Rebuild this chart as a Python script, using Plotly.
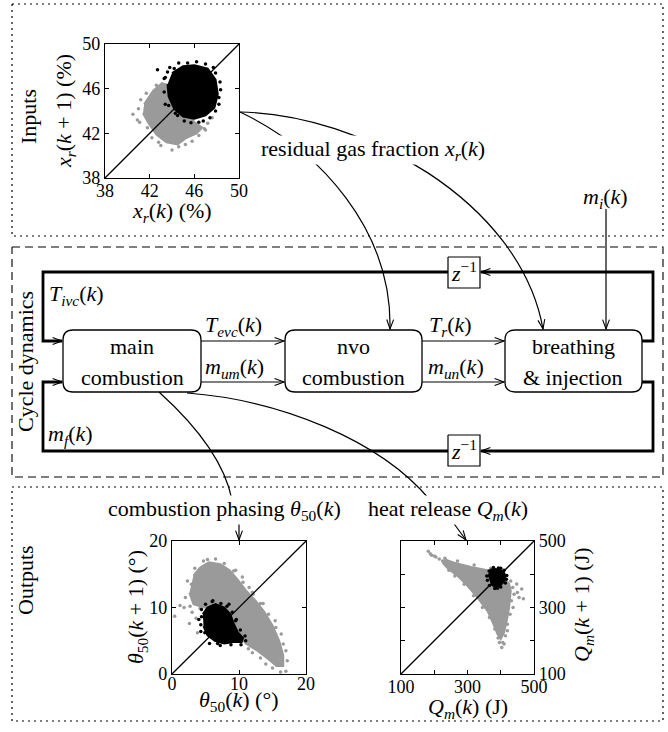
import math
import plotly.graph_objects as go

W, H = 668, 732
FONT = "Liberation Serif"
GRAY = "#9a9a9a"

# ---------------- data ----------------
xr_range = [38, 50]
xr_ticks = [38, 42, 46, 50]
xr_gray_poly_x = [41.5, 42.3, 43.1, 44.0, 46.0, 46.7, 46.2, 45.3, 44.5, 43.5, 42.6, 41.9, 41.4]
xr_gray_poly_y = [44.6, 45.8, 46.5, 46.2, 43.0, 42.5, 42.0, 41.6, 41.0, 41.2, 41.9, 42.9, 43.8]
xr_gray_pts_x = [40.5, 41.0, 40.9, 44.0, 42.2, 47.2, 47.6, 43.0, 45.8, 41.7, 42.6, 46.9,
                 41.2, 41.8, 42.8, 44.6, 45.2, 46.4, 47.0, 41.1]
xr_gray_pts_y = [43.7, 44.2, 43.2, 40.5, 41.6, 42.9, 43.4, 40.9, 41.3, 45.6, 46.3, 42.4,
                 45.0, 42.5, 41.2, 40.8, 41.0, 41.8, 42.3, 43.0]
xr_black_poly_x = [44.0, 45.0, 46.0, 47.2, 47.9, 48.1, 47.8, 47.0, 46.0, 45.0, 44.2, 43.7, 43.6]
xr_black_poly_y = [47.4, 48.0, 48.1, 47.8, 46.8, 45.5, 44.3, 43.6, 43.3, 43.5, 44.2, 45.3, 46.4]
xr_black_pts_x = [42.7, 43.3, 43.4, 48.35, 48.2, 45.7, 46.8, 44.5, 47.7, 44.2, 46.2, 43.6,
                  43.8, 44.6, 45.4, 47.0, 47.9, 48.3, 48.2, 47.9, 47.4, 46.4, 45.1, 44.3, 43.7, 43.3, 43.4]
xr_black_pts_y = [47.7, 46.9, 44.6, 45.9, 44.6, 42.95, 43.1, 43.6, 47.9, 47.8, 48.4, 47.5,
                  47.9, 48.3, 48.3, 48.2, 47.4, 46.6, 45.2, 44.0, 43.4, 43.0, 43.1, 43.8, 44.5, 45.7, 47.0]

th_range = [0, 20]
th_ticks = [0, 10, 20]
th_gray_poly_x = [3.2, 4.2, 5.5, 7.2, 8.6, 9.8, 11.0, 12.5, 13.8, 15.0, 16.0, 16.6, 16.6, 15.6, 14.3, 12.6, 11.0, 9.5, 8.2, 6.5, 4.8, 3.2, 2.6]
th_gray_poly_y = [14.8, 16.0, 16.8, 16.5, 15.6, 14.2, 12.6, 11.0, 9.3, 7.3, 5.0, 2.8, 1.2, 1.2, 2.3, 3.6, 4.6, 6.5, 8.8, 9.8, 10.0, 10.5, 12.2]
th_gray_pts_x = [1.2, 0.4, 2.6, 2.0, 3.6, 2.9, 4.7, 6.5, 9.5, 12.0, 13.6, 15.4, 16.6, 17.0, 16.2, 14.0, 12.0, 17.2, 11.5, 3.8, 1.8, 10.5,
                 5.3, 7.8, 9.2, 10.6, 12.1, 13.2, 14.4, 15.5, 16.3, 17.0, 15.0, 13.2, 11.4, 2.3, 3.4, 2.7, 3.0, 4.2]
th_gray_pts_y = [10.3, 8.7, 7.6, 11.5, 8.4, 13.5, 17.0, 17.3, 15.6, 12.3, 10.6, 8.0, 4.5, 0.4, 0.3, 1.5, 3.2, 2.0, 13.0, 6.2, 10.0, 14.6,
                 17.2, 16.6, 15.5, 13.8, 12.0, 10.6, 9.0, 7.0, 6.0, 3.5, 0.9, 2.4, 3.8, 14.0, 15.9, 10.2, 9.3, 9.9]
th_black_poly_x = [4.6, 5.3, 6.5, 7.8, 8.7, 9.2, 9.8, 10.6, 10.4, 9.2, 7.8, 6.4, 5.3, 4.7]
th_black_poly_y = [9.0, 10.0, 10.5, 10.0, 9.0, 7.6, 6.3, 5.4, 4.8, 4.8, 4.6, 5.0, 5.8, 7.2]
th_black_pts_x = [6.1, 4.0, 4.3, 10.9, 5.6, 7.2, 8.5, 9.6, 11.0,
                  4.4, 5.0, 6.0, 7.3, 8.2, 9.0, 9.5, 10.2, 10.3, 8.8, 6.8, 4.9, 4.3, 4.4]
th_black_pts_y = [11.0, 8.2, 6.4, 5.7, 4.6, 4.3, 10.5, 8.2, 5.0,
                  9.7, 10.5, 10.9, 10.6, 10.2, 9.3, 8.0, 6.6, 4.4, 4.4, 4.6, 6.2, 7.4, 8.6]

q_range = [100, 500]
q_ticks = [100, 200, 300, 400, 500]
q_ticktext = ["100", "", "300", "", "500"]
q_gray_poly_x = [230, 260, 310, 360, 400, 425, 430, 425, 418, 410, 400, 390, 378, 360, 330, 300, 270, 240, 225]
q_gray_poly_y = [445, 435, 422, 412, 395, 372, 350, 300, 260, 225, 205, 220, 250, 290, 330, 365, 395, 418, 435]
q_gray_pts_x = [182, 192, 205, 215, 448, 463, 468, 403, 410, 396, 440, 437, 225, 420,
                188, 200, 232, 270, 320, 370, 430, 436, 432, 428, 420, 414, 406, 392, 382, 366, 345, 318, 290, 262, 244, 450, 455]
q_gray_pts_y = [469, 457, 452, 446, 371, 356, 326, 180, 190, 195, 340, 300, 440, 230,
                462, 455, 448, 440, 428, 418, 380, 360, 320, 280, 250, 215, 195, 208, 235, 270, 300, 335, 370, 395, 412, 345, 330]
q_black_poly_x = [363, 368, 380, 395, 408, 414, 410, 398, 383, 370]
q_black_poly_y = [392, 407, 416, 415, 408, 395, 378, 366, 362, 370]
q_black_pts_x = [360, 417, 390, 400, 372, 358, 365, 378, 393, 410, 418, 414, 400, 382, 366]
q_black_pts_y = [382, 385, 358, 418, 413, 395, 410, 420, 419, 412, 396, 374, 362, 357, 366]

# ---------------- helpers ----------------
def P(px, py):
    return px / W, 1 - py / H

def fmt(px, py):
    x, y = P(px, py)
    return f"{x:.5f},{y:.5f}"

shapes = []

def add_path(d, w=1.2, dash="solid", color="black"):
    shapes.append(dict(type="path", xref="paper", yref="paper", path=d,
                       line=dict(color=color, width=w, dash=dash)))

def polyline(pts, w=1.2, dash="solid"):
    d = "M " + fmt(*pts[0]) + "".join(" L " + fmt(*p) for p in pts[1:])
    add_path(d, w, dash)

def head(tip, frm, L=10, ang=20):
    ux, uy = tip[0] - frm[0], tip[1] - frm[1]
    n = math.hypot(ux, uy)
    ux, uy = ux / n, uy / n
    pts = []
    for s in (1, -1):
        a = math.radians(ang * s)
        rx = ux * math.cos(a) - uy * math.sin(a)
        ry = ux * math.sin(a) + uy * math.cos(a)
        pts.append((tip[0] - L * rx, tip[1] - L * ry))
    polyline([pts[0], tip, pts[1]], 1.1)

def arrow(pts, w=1.2):
    polyline(pts, w)
    head(pts[-1], pts[-2])

def bezier_arrow(p0, p1, p2, p3, w=1.2, with_head=True):
    d = "M " + fmt(*p0) + " C " + fmt(*p1) + " " + fmt(*p2) + " " + fmt(*p3)
    add_path(d, w)
    if with_head:
        head(p3, p2)

def rrect(x0, y0, x1, y1, r=10, w=1.3):
    d = ("M " + fmt(x0 + r, y0) + " L " + fmt(x1 - r, y0) + " Q " + fmt(x1, y0) + " " + fmt(x1, y0 + r)
         + " L " + fmt(x1, y1 - r) + " Q " + fmt(x1, y1) + " " + fmt(x1 - r, y1)
         + " L " + fmt(x0 + r, y1) + " Q " + fmt(x0, y1) + " " + fmt(x0, y1 - r)
         + " L " + fmt(x0, y0 + r) + " Q " + fmt(x0, y0) + " " + fmt(x0 + r, y0) + " Z")
    add_path(d, w)

def rect(x0, y0, x1, y1, w=1.2, dash="solid"):
    polyline([(x0, y0), (x1, y0), (x1, y1), (x0, y1), (x0, y0)], w, dash)

annotations = []

def text(px, py, s, size=22, xanchor="center", angle=0, bg=None):
    x, y = P(px, py)
    a = dict(xref="paper", yref="paper", x=x, y=y, text=s, showarrow=False,
             xanchor=xanchor, yanchor="middle", textangle=angle,
             font=dict(family=FONT, size=size, color="black"))
    if bg:
        a.update(bgcolor=bg, borderpad=0)
    annotations.append(a)

# ---------------- section frames ----------------
DOT = "2px,4px"
DASH = "8px,5px"
rect(12, 4, 663, 236, 1.2, DOT)
rect(12, 247, 663, 477, 1.1, DASH)
rect(12, 487, 663, 721, 1.2, DOT)

# ---------------- block diagram ----------------
rrect(63, 330, 201, 392)
rrect(285, 330, 422, 392)
rrect(505, 330, 642, 392)
rect(448, 257, 480, 288, 1.2)
rect(448, 435, 480, 466, 1.2)

TH = 2.8
polyline([(642, 341), (653, 341), (653, 272), (481, 272)], TH)
head((481, 272), (500, 272))
polyline([(448, 272), (43, 272), (43, 341), (62, 341)], TH)
head((62, 341), (43, 341))
polyline([(642, 382), (653, 382), (653, 451), (481, 451)], TH)
head((481, 451), (500, 451))
polyline([(448, 451), (43, 451), (43, 382), (62, 382)], TH)
head((62, 382), (43, 382))
arrow([(201, 341), (284, 341)])
arrow([(201, 382), (284, 382)])
arrow([(422, 341), (504, 341)])
arrow([(422, 382), (504, 382)])
arrow([(606, 209), (606, 329)])
bezier_arrow((240, 112), (320, 150), (392, 230), (390, 329))
bezier_arrow((240, 112), (360, 114), (520, 200), (543, 329))
bezier_arrow((159, 392), (190, 420), (224, 458), (232, 500), with_head=False)
bezier_arrow((187, 393), (280, 400), (380, 440), (430, 500), with_head=False)
arrow([(239, 524), (239, 540)])
arrow([(452, 521), (466, 540)])

# ---------------- texts ----------------
text(28, 117, "Inputs", angle=-90)
text(25, 362, "Cycle dynamics", angle=-90)
text(25, 580, "Outputs", angle=-90)

text(132, 346, "main")
text(132, 377, "combustion")
text(353, 346, "nvo")
text(353, 377, "combustion")
text(573, 346, "breathing")
text(573, 377, "&amp; injection")

text(47, 295, "<i>T<sub>ivc</sub></i>(<i>k</i>)", xanchor="left")
text(46, 435, "<i>m<sub>f</sub></i>(<i>k</i>)", xanchor="left")
text(203, 326, "<i>T<sub>evc</sub></i>(<i>k</i>)", xanchor="left")
text(203, 368, "<i>m<sub>um</sub></i>(<i>k</i>)", xanchor="left")
text(427, 326, "<i>T<sub>r</sub></i>(<i>k</i>)", xanchor="left")
text(426, 368, "<i>m<sub>un</sub></i>(<i>k</i>)", xanchor="left")
text(464, 272, "<i>z</i><sup>−1</sup>", size=22)
text(464, 450, "<i>z</i><sup>−1</sup>", size=22)
text(605, 198, "<i>m<sub>i</sub></i>(<i>k</i>)")
text(373, 150, "residual gas fraction <i>x<sub>r</sub></i>(<i>k</i>)", bg="white")
text(224, 510, "combustion phasing <i>θ</i><sub>50</sub>(<i>k</i>)", bg="white")
text(448, 510, "heat release <i>Q<sub>m</sub></i>(<i>k</i>)", bg="white")

text(172, 212, "<i>x<sub>r</sub></i>(<i>k</i>) (%)")
text(65, 111, "<i>x<sub>r</sub></i>(<i>k</i> + 1) (%)", angle=-90)
text(239, 701, "<i>θ</i><sub>50</sub>(<i>k</i>) (°)")
text(137, 607, "<i>θ</i><sub>50</sub>(<i>k</i> + 1) (°)", angle=-90)
text(468, 708, "<i>Q<sub>m</sub></i>(<i>k</i>) (J)")
text(583, 605, "<i>Q<sub>m</sub></i>(<i>k</i> + 1) (J)", angle=-90)

# ---------------- scatter plots ----------------
fig = go.Figure()

def cloud(xa, ya, px, py, ptsx, ptsy, color):
    fig.add_trace(go.Scatter(x=px, y=py, fill="toself", fillcolor=color, mode="lines",
                             line=dict(color=color, width=2), xaxis=xa, yaxis=ya,
                             hoverinfo="skip", showlegend=False))
    fig.add_trace(go.Scatter(x=ptsx, y=ptsy, mode="markers",
                             marker=dict(color=color, size=3.5), xaxis=xa, yaxis=ya,
                             hoverinfo="skip", showlegend=False))

def diag(xa, ya, rng):
    fig.add_trace(go.Scatter(x=rng, y=rng, mode="lines", line=dict(color="black", width=1.3),
                             xaxis=xa, yaxis=ya, hoverinfo="skip", showlegend=False))

cloud("x", "y", xr_gray_poly_x, xr_gray_poly_y, xr_gray_pts_x, xr_gray_pts_y, GRAY)
cloud("x", "y", xr_black_poly_x, xr_black_poly_y, xr_black_pts_x, xr_black_pts_y, "black")
diag("x", "y", xr_range)
cloud("x2", "y2", th_gray_poly_x, th_gray_poly_y, th_gray_pts_x, th_gray_pts_y, GRAY)
cloud("x2", "y2", th_black_poly_x, th_black_poly_y, th_black_pts_x, th_black_pts_y, "black")
diag("x2", "y2", th_range)
cloud("x3", "y3", q_gray_poly_x, q_gray_poly_y, q_gray_pts_x, q_gray_pts_y, GRAY)
cloud("x3", "y3", q_black_poly_x, q_black_poly_y, q_black_pts_x, q_black_pts_y, "black")
diag("x3", "y3", q_range)

def ax(domain, rng, ticks, anchor, ticktext=None, side=None, standoff=0):
    d = dict(domain=domain, range=rng, tickvals=ticks, anchor=anchor,
             showline=True, linecolor="black", linewidth=1.3, mirror="ticks",
             ticks="inside", ticklen=4, tickwidth=1, tickcolor="black",
             showgrid=False, zeroline=False, fixedrange=True, automargin=False,
             ticklabelstandoff=standoff,
             tickfont=dict(family=FONT, size=18, color="black"))
    if ticktext is not None:
        d["ticktext"] = ticktext
    if side:
        d["side"] = side
    return d

fig.update_layout(
    template="none",
    width=W, height=H, margin=dict(l=0, r=0, t=0, b=0, pad=0, autoexpand=False),
    paper_bgcolor="white", plot_bgcolor="white", showlegend=False,
    font=dict(family=FONT),
    xaxis=ax([105 / W, 239 / W], xr_range, xr_ticks, "y", standoff=-4),
    yaxis=ax([1 - 178 / H, 1 - 44 / H], xr_range, xr_ticks, "x"),
    xaxis2=ax([172 / W, 306 / W], th_range, th_ticks, "y2", standoff=-7),
    yaxis2=ax([1 - 674 / H, 1 - 541 / H], th_range, th_ticks, "x2"),
    xaxis3=ax([401 / W, 534 / W], q_range, q_ticks, "y3", q_ticktext, standoff=-4),
    yaxis3=ax([1 - 674 / H, 1 - 541 / H], q_range, q_ticks, "x3", q_ticktext, side="right"),
    shapes=shapes, annotations=annotations,
)

fig.write_html("out.html")
